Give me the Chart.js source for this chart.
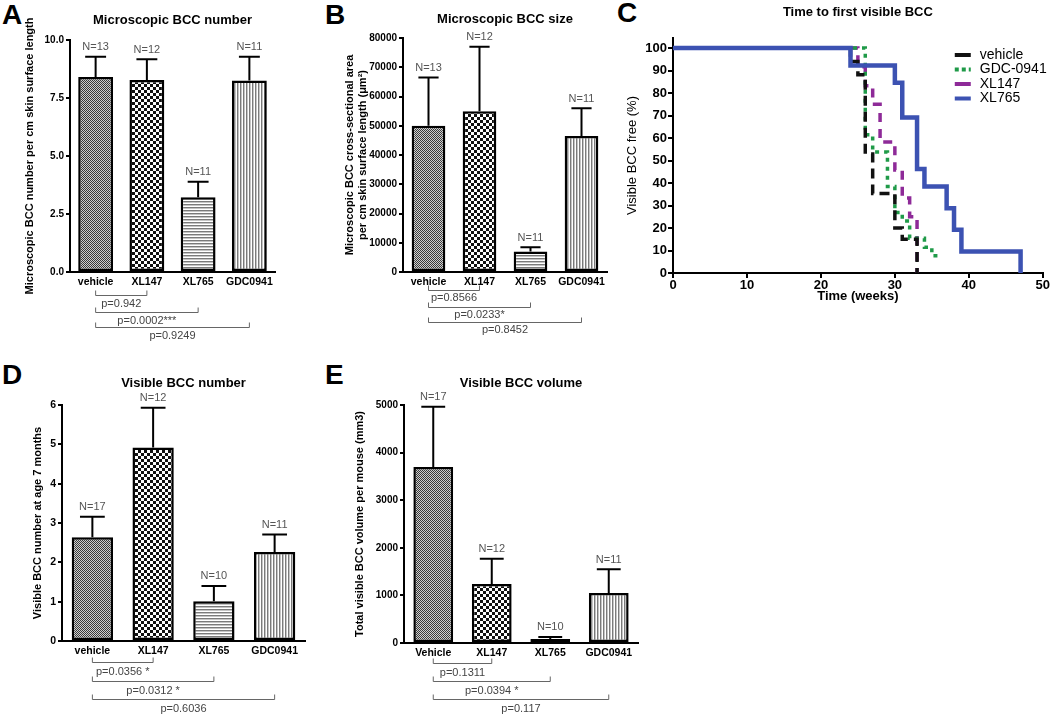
<!DOCTYPE html>
<html lang="en">
<head>
  <meta charset="UTF-8">
  <title>BCC figure</title>
  <script src="https://cdn.jsdelivr.net/npm/chart.js"></script>
  <style>
    * { margin: 0; padding: 0; box-sizing: border-box; }
    body {
      width: 1050px;
      height: 717px;
      background: #fff;
      position: relative;
      overflow: hidden;
      font-family: 'Liberation Sans', Arial, sans-serif;
    }
    canvas { position: absolute; }
    .tag {
      position: absolute;
      font: bold 28px 'Liberation Sans', Arial, sans-serif;
      line-height: 1;
      color: #000;
    }
  </style>
</head>
<body>

  <div class="tag" style="left:2px;top:1px">A</div>
  <div class="tag" style="left:325px;top:1px">B</div>
  <div class="tag" style="left:617px;top:-1px">C</div>
  <div class="tag" style="left:2px;top:361px">D</div>
  <div class="tag" style="left:325px;top:361px">E</div>

  <canvas id="chartA" width="330" height="350" style="left:0;top:0"></canvas>
  <canvas id="chartB" width="300" height="350" style="left:330px;top:0"></canvas>
  <canvas id="chartC" width="450" height="320" style="left:600px;top:0"></canvas>
  <canvas id="chartD" width="330" height="357" style="left:0;top:360px"></canvas>
  <canvas id="chartE" width="320" height="357" style="left:330px;top:360px"></canvas>

  <script>
    // groups
    const groups  = ['vehicle', 'XL147', 'XL765', 'GDC0941'];
    const groupsE = ['Vehicle', 'XL147', 'XL765', 'GDC0941'];

    // A - microscopic BCC number
    const aMean  = [8.40, 8.28, 3.22, 8.25];
    const aErr   = [0.88, 0.89, 0.67, 1.03];
    const aN     = [13, 12, 11, 11];
    const aP     = ['p=0.942', 'p=0.0002***', 'p=0.9249'];
    const aTicks = [0, 2.5, 5, 7.5, 10];

    // B - microscopic BCC size
    const bMean  = [50000, 55000, 7000, 46500];
    const bErr   = [16500, 22000, 1500, 9500];
    const bN     = [13, 12, 11, 11];
    const bP     = ['p=0.8566', 'p=0.0233*', 'p=0.8452'];
    const bTicks = [0, 10000, 20000, 30000, 40000, 50000, 60000, 70000, 80000];

    // D - visible BCC number
    const dMean  = [2.64, 4.92, 1.01, 2.26];
    const dErr   = [0.52, 1.01, 0.39, 0.45];
    const dN     = [17, 12, 10, 11];
    const dP     = ['p=0.0356 *', 'p=0.0312 *', 'p=0.6036'];
    const dTicks = [0, 1, 2, 3, 4, 5, 6];

    // E - visible BCC volume
    const eMean  = [3700, 1240, 85, 1050];
    const eErr   = [1265, 530, 42, 500];
    const eN     = [17, 12, 10, 11];
    const eP     = ['p=0.1311', 'p=0.0394 *', 'p=0.117'];
    const eTicks = [0, 1000, 2000, 3000, 4000, 5000];

    // C - time to first visible BCC (Kaplan-Meier steps)
    const kmWeeksVehicle = [0, 24, 25, 26, 27, 30, 31, 33];
    const kmFreeVehicle  = [100, 94.1, 88.2, 52.9, 35.3, 20.0, 15.0, 0];
    const kmWeeksGDC     = [0, 26, 27, 29, 30, 31, 32, 34, 35, 36];
    const kmFreeGDC      = [100, 61.5, 53.8, 38.5, 26.9, 23.1, 15.4, 11.5, 7.7, 7.7];
    const kmWeeksXL147   = [0, 25, 26, 27, 28, 30, 31, 32, 33];
    const kmFreeXL147    = [100, 91.7, 83.3, 75.0, 58.3, 45.8, 33.3, 25.0, 0];
    const kmWeeksXL765   = [0, 24, 30, 31, 33, 34, 37, 38, 39, 47];
    const kmFreeXL765    = [100, 92.3, 84.6, 69.2, 46.2, 38.5, 28.8, 19.2, 9.6, 0];
    const cTicksX = [0, 10, 20, 30, 40, 50];
    const cTicksY = [0, 10, 20, 30, 40, 50, 60, 70, 80, 90, 100];

    const FONT = "'Liberation Sans', Arial, sans-serif";

    // hatch fills for the bars
    function makePattern(kind) {
      const c = document.createElement('canvas');
      const g = c.getContext('2d');
      if (kind === 'fine') {
        c.width = c.height = 2;
        g.fillStyle = '#cfcfcf'; g.fillRect(0, 0, 2, 2);
        g.fillStyle = '#3a3a3a'; g.fillRect(0, 0, 1, 1); g.fillRect(1, 1, 1, 1);
      } else if (kind === 'check') {
        c.width = c.height = 6;
        g.fillStyle = '#fff'; g.fillRect(0, 0, 6, 6);
        g.fillStyle = '#111'; g.fillRect(0, 0, 3, 3); g.fillRect(3, 3, 3, 3);
      } else if (kind === 'hlines') {
        c.width = 1; c.height = 3;
        g.fillStyle = '#fff'; g.fillRect(0, 0, 1, 3);
        g.fillStyle = '#7a7a7a'; g.fillRect(0, 0, 1, 1);
        g.fillStyle = '#c4c4c4'; g.fillRect(0, 1, 1, 1);
      } else {
        c.width = 3; c.height = 1;
        g.fillStyle = '#fff'; g.fillRect(0, 0, 3, 1);
        g.fillStyle = '#7a7a7a'; g.fillRect(0, 0, 1, 1);
        g.fillStyle = '#c4c4c4'; g.fillRect(1, 0, 1, 1);
      }
      return g.createPattern(c, 'repeat');
    }
    const fills = [makePattern('fine'), makePattern('check'), makePattern('hlines'), makePattern('vlines')];

    // upper error bars + N labels
    const errorBars = {
      id: 'errorBars',
      afterDatasetsDraw(chart, args, o) {
        const { ctx } = chart;
        const y = chart.scales.y;
        const meta = chart.getDatasetMeta(0);
        const vals = chart.data.datasets[0].data;
        ctx.save();
        ctx.strokeStyle = '#000';
        ctx.lineWidth = 2;
        ctx.fillStyle = '#555';
        ctx.font = '11px ' + FONT;
        ctx.textAlign = 'center';
        ctx.textBaseline = 'bottom';
        meta.data.forEach((bar, i) => {
          const top = y.getPixelForValue(vals[i] + o.err[i]);
          const half = bar.width * 0.3;
          ctx.beginPath();
          ctx.moveTo(bar.x, bar.y);
          ctx.lineTo(bar.x, top);
          ctx.moveTo(bar.x - half, top);
          ctx.lineTo(bar.x + half, top);
          ctx.stroke();
          ctx.fillText('N=' + o.n[i], bar.x, top - 4);
        });
        ctx.restore();
      }
    };

    // p-value brackets under the axis, all against the first group
    const brackets = {
      id: 'brackets',
      afterDraw(chart, args, o) {
        const { ctx, chartArea } = chart;
        const x = chart.scales.x;
        ctx.save();
        ctx.strokeStyle = '#666';
        ctx.lineWidth = 1;
        ctx.fillStyle = '#444';
        ctx.font = '11px ' + FONT;
        ctx.textAlign = 'center';
        ctx.textBaseline = 'middle';
        o.labels.forEach((lab, k) => {
          const x0 = x.getPixelForValue(0);
          const x1 = x.getPixelForValue(k + 1);
          const yb = Math.round(chartArea.bottom + o.rows[k]) + 0.5;
          ctx.beginPath();
          ctx.moveTo(x0, yb - 5);
          ctx.lineTo(x0, yb);
          ctx.lineTo(x1, yb);
          ctx.lineTo(x1, yb - 5);
          ctx.stroke();
          ctx.fillText(lab, (x0 + x1) / 2, yb + o.gap);
        });
        ctx.restore();
      }
    };

    function barChart(id, labels, means, errs, ns, pvals, ticks, s) {
      return new Chart(document.getElementById(id), {
        type: 'bar',
        data: {
          labels: labels,
          datasets: [{
            data: means,
            backgroundColor: fills,
            borderColor: '#000',
            borderWidth: 2.5,
            borderSkipped: false,
            barPercentage: s.barPct,
            categoryPercentage: 1
          }]
        },
        options: {
          responsive: false,
          animation: false,
          events: [],
          layout: { padding: { left: 0, top: 0, right: s.padRight, bottom: 0 } },
          scales: {
            x: {
              afterFit: sc => { sc.height = s.xHeight; },
              grid: { display: false, drawTicks: false },
              border: { display: true, color: '#000', width: 2 },
              ticks: { color: '#000', font: { family: FONT, size: 10.5, weight: 'bold' }, padding: 4, maxRotation: 0 }
            },
            y: {
              min: 0,
              max: ticks[ticks.length - 1],
              afterBuildTicks: sc => { sc.ticks = ticks.map(v => ({ value: v })); },
              afterFit: sc => { sc.width = s.yWidth; },
              grid: { drawOnChartArea: false, color: '#000', lineWidth: 2, tickLength: 4 },
              border: { display: true, color: '#000', width: 2 },
              ticks: {
                color: '#000',
                font: { family: FONT, size: s.tickSize, weight: 'bold' },
                padding: 2,
                callback: s.fmt
              },
              title: {
                display: true,
                text: s.yTitle,
                color: '#000',
                font: { family: FONT, size: 11, weight: 'bold' },
                padding: { top: s.yTitlePad, bottom: 0 }
              }
            }
          },
          plugins: {
            legend: { display: false },
            tooltip: { enabled: false },
            title: {
              display: true,
              text: s.title,
              fullSize: false,
              color: '#000',
              font: { family: FONT, size: 13, weight: 'bold' },
              padding: { top: s.titleTop, bottom: s.titleBottom }
            },
            errorBars: { err: errs, n: ns },
            brackets: { labels: pvals, rows: s.rows, gap: s.gap }
          }
        },
        plugins: [errorBars, brackets]
      });
    }

    barChart('chartA', groups, aMean, aErr, aN, aP, aTicks, {
      title: 'Microscopic BCC number',
      yTitle: 'Microscopic BCC number per cm skin surface length',
      fmt: v => v.toFixed(1), tickSize: 10,
      barPct: 0.68, padRight: 55, xHeight: 78, yWidth: 70, yTitlePad: 23,
      titleTop: 13, titleBottom: 11.4, rows: [23, 40, 55], gap: 8
    });

    barChart('chartB', groups, bMean, bErr, bN, bP, bTicks, {
      title: 'Microscopic BCC size',
      yTitle: ['Microscopic BCC cross-sectional area', 'per cm skin surface length (\u03bcm\u00b2)'],
      fmt: v => String(v), tickSize: 10,
      barPct: 0.66, padRight: 23, xHeight: 78, yWidth: 73, yTitlePad: 13,
      titleTop: 12, titleBottom: 10.4, rows: [18, 35, 50], gap: 7
    });

    barChart('chartD', groups, dMean, dErr, dN, dP, dTicks, {
      title: 'Visible BCC number',
      yTitle: 'Visible BCC number at age 7 months',
      fmt: v => String(v), tickSize: 10.5,
      barPct: 0.68, padRight: 25, xHeight: 76, yWidth: 62, yTitlePad: 31,
      titleTop: 16, titleBottom: 13.4, rows: [21, 40, 58], gap: 9
    });

    barChart('chartE', groupsE, eMean, eErr, eN, eP, eTicks, {
      title: 'Visible BCC volume',
      yTitle: 'Total visible BCC volume per mouse (mm3)',
      fmt: v => String(v), tickSize: 10,
      barPct: 0.68, padRight: 12, xHeight: 74, yWidth: 74, yTitlePad: 23,
      titleTop: 16, titleBottom: 13.4, rows: [20, 38, 56], gap: 9
    });

    // Kaplan-Meier panel
    const toPoints = (xs, ys) => xs.map((t, i) => ({ x: t, y: ys[i] }));

    const kmLegend = {
      id: 'kmLegend',
      afterDraw(chart) {
        const { ctx, chartArea } = chart;
        ctx.save();
        ctx.font = '14px ' + FONT;
        ctx.textBaseline = 'middle';
        ctx.fillStyle = '#000';
        chart.data.datasets.forEach((ds, i) => {
          const y = chartArea.top + 17 + i * 14.5;
          const x0 = chartArea.right - 88;
          ctx.strokeStyle = ds.borderColor;
          ctx.lineWidth = 4;
          ctx.setLineDash(i === 1 ? [4, 3] : []);
          ctx.beginPath();
          ctx.moveTo(x0, y);
          ctx.lineTo(x0 + 16, y);
          ctx.stroke();
          ctx.setLineDash([]);
          ctx.fillText(ds.label, x0 + 25, y);
        });
        ctx.restore();
      }
    };

    new Chart(document.getElementById('chartC'), {
      type: 'line',
      data: {
        datasets: [
          { label: 'vehicle', data: toPoints(kmWeeksVehicle, kmFreeVehicle), borderColor: '#111', borderWidth: 3.5, borderDash: [10, 6], order: 1 },
          { label: 'GDC-0941', data: toPoints(kmWeeksGDC, kmFreeGDC), borderColor: '#1f9a48', borderWidth: 3.5, borderDash: [4, 5], order: 2 },
          { label: 'XL147', data: toPoints(kmWeeksXL147, kmFreeXL147), borderColor: '#8e2a98', borderWidth: 3.5, borderDash: [9, 7], order: 3 },
          { label: 'XL765', data: toPoints(kmWeeksXL765, kmFreeXL765), borderColor: '#3c52b2', borderWidth: 4.5, order: 0 }
        ]
      },
      options: {
        responsive: false,
        animation: false,
        events: [],
        elements: {
          line: { stepped: 'before', fill: false },
          point: { radius: 0 }
        },
        layout: { padding: { left: 0, top: 0, right: 7, bottom: 0 } },
        scales: {
          x: {
            type: 'linear',
            min: 0,
            max: 50,
            afterBuildTicks: sc => { sc.ticks = cTicksX.map(v => ({ value: v })); },
            afterFit: sc => { sc.height = 47; },
            grid: { drawOnChartArea: false, color: '#000', lineWidth: 2, tickLength: 5 },
            border: { display: true, color: '#000', width: 2 },
            ticks: { color: '#000', font: { family: FONT, size: 13, weight: 'bold' }, padding: 0, maxRotation: 0 },
            title: {
              display: true,
              text: 'Time (weeks)',
              color: '#000',
              font: { family: FONT, size: 13, weight: 'bold' },
              padding: { top: 0, bottom: 16 }
            }
          },
          y: {
            min: 0,
            max: 104.5,
            afterBuildTicks: sc => { sc.ticks = cTicksY.map(v => ({ value: v })); },
            afterFit: sc => { sc.width = 73; },
            grid: { drawOnChartArea: false, color: '#000', lineWidth: 2, tickLength: 5 },
            border: { display: true, color: '#000', width: 2 },
            ticks: { color: '#000', font: { family: FONT, size: 13, weight: 'bold' }, padding: 1 },
            title: {
              display: true,
              text: 'Visible BCC free (%)',
              color: '#000',
              font: { family: FONT, size: 13 },
              padding: { top: 25, bottom: 0 }
            }
          }
        },
        plugins: {
          legend: { display: false },
          tooltip: { enabled: false },
          title: {
            display: true,
            text: 'Time to first visible BCC',
            fullSize: false,
            color: '#000',
            font: { family: FONT, size: 13, weight: 'bold' },
            padding: { top: 5, bottom: 17.4 }
          }
        }
      },
      plugins: [kmLegend]
    });
  </script>

</body>
</html>
